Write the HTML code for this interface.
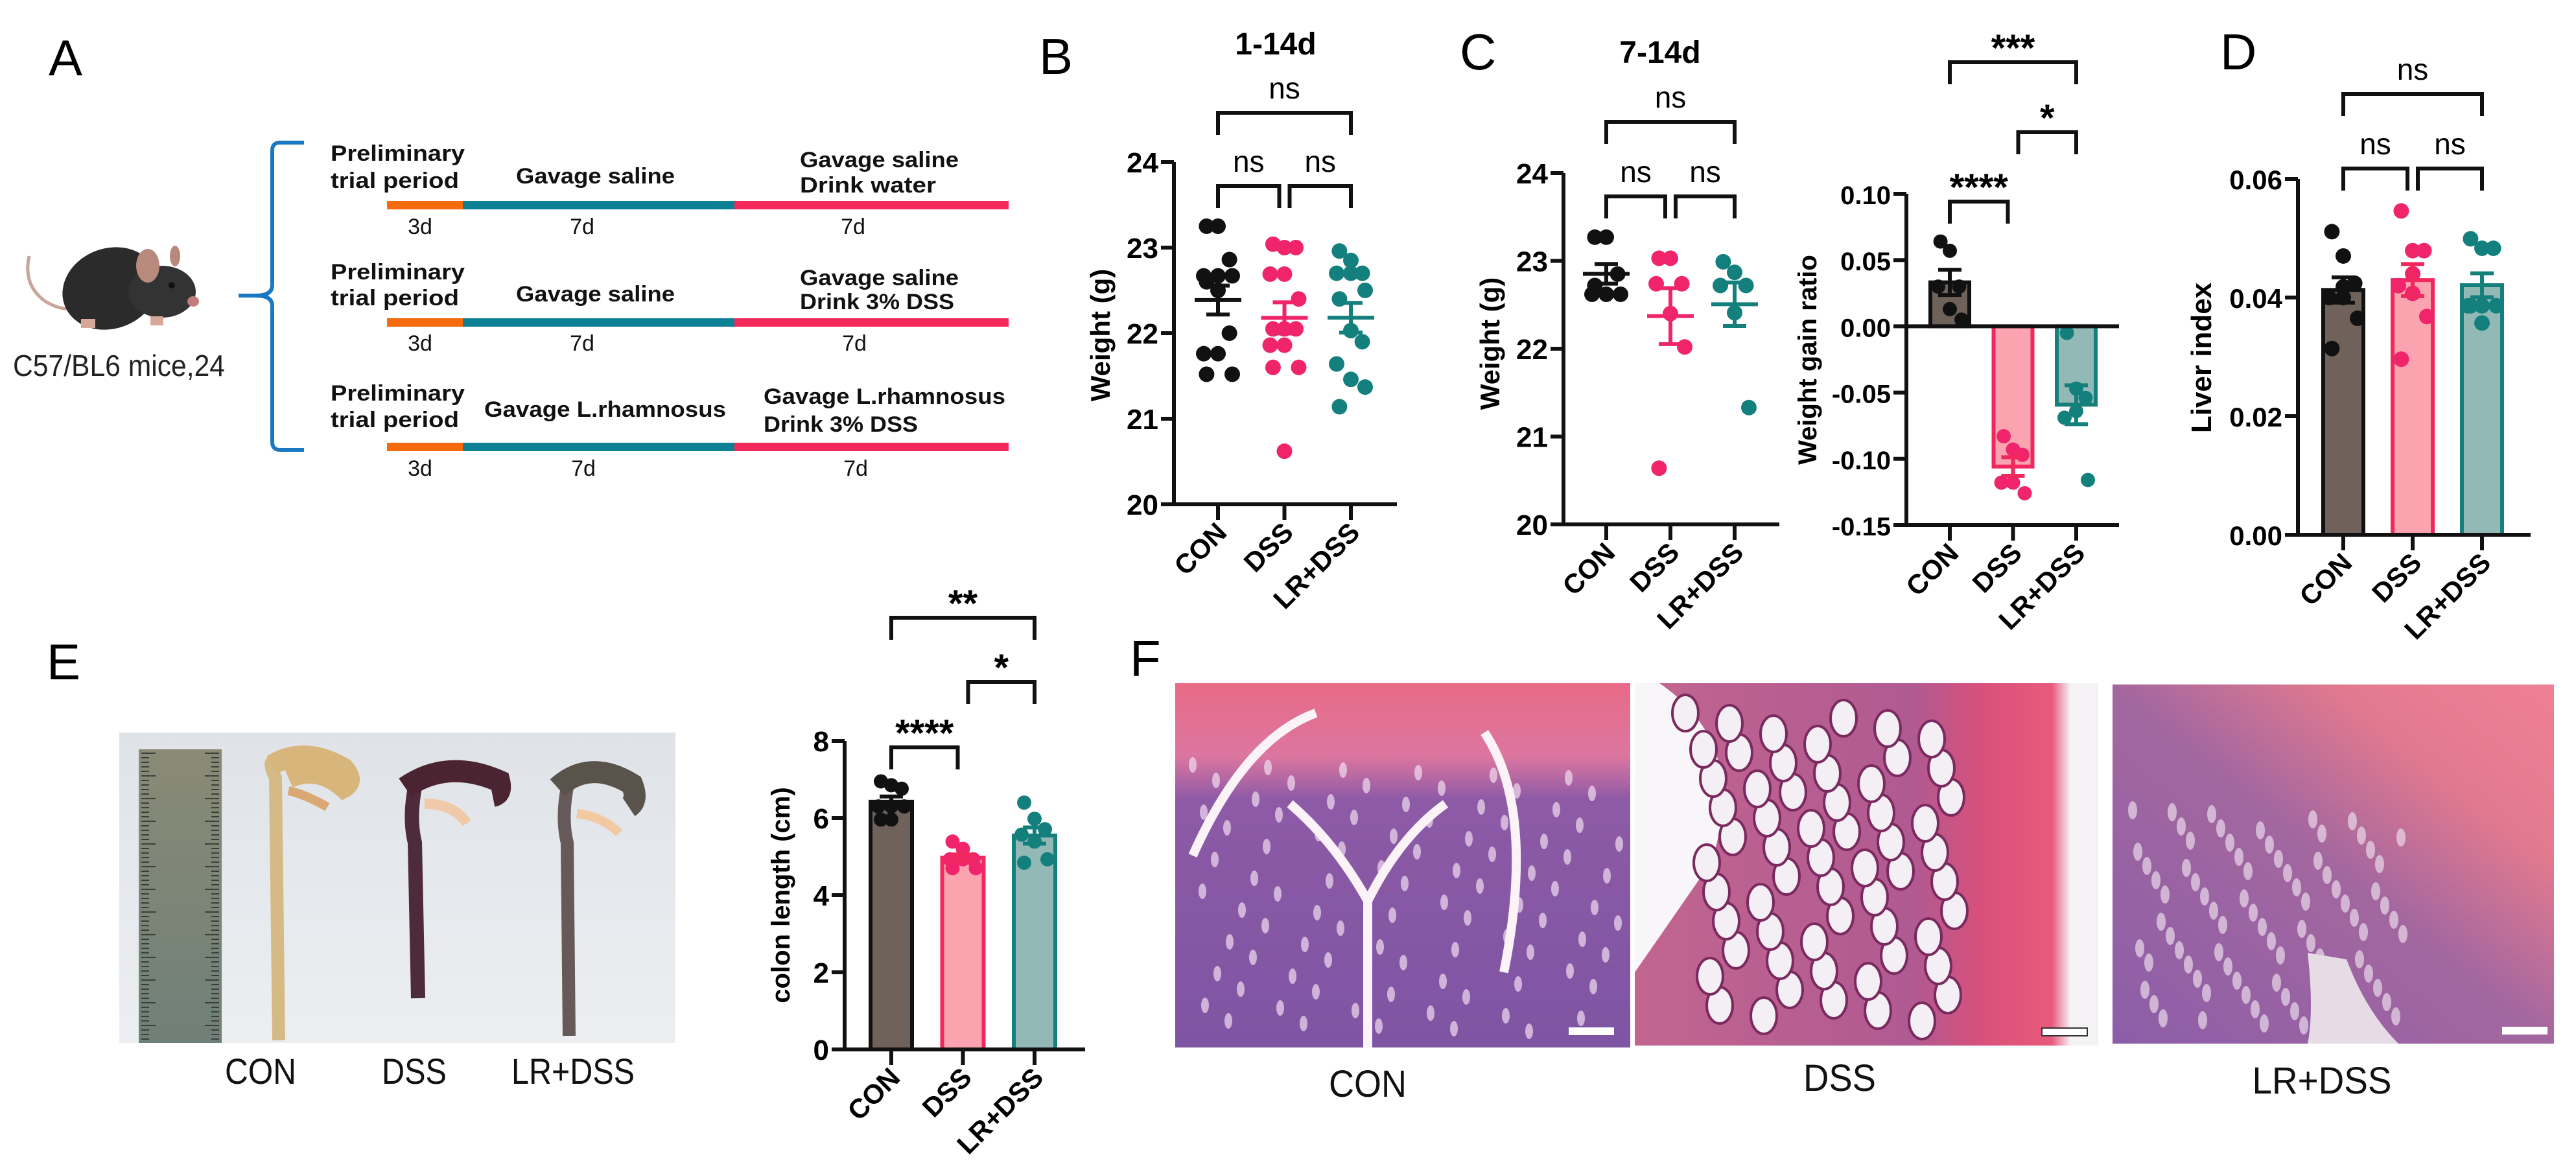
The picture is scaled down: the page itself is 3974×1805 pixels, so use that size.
<!DOCTYPE html>
<html><head><meta charset="utf-8">
<style>
html,body{margin:0;padding:0;background:#fff;}
svg{display:block;}
text{font-family:"Liberation Sans",Arial,sans-serif;}
</style></head>
<body>
<svg id="fig" width="3974" height="1805" viewBox="0 0 3974 1805" xmlns="http://www.w3.org/2000/svg">
<defs>
<linearGradient id="conHist" x1="0" y1="0" x2="0" y2="1">
<stop offset="0" stop-color="#e86a86"/><stop offset="0.2" stop-color="#dc76a0"/><stop offset="0.32" stop-color="#8d5aa6"/><stop offset="1" stop-color="#7e55a3"/></linearGradient>
<linearGradient id="dssHist" x1="0" y1="0" x2="1" y2="0">
<stop offset="0" stop-color="#c2658f"/><stop offset="0.6" stop-color="#b05a92"/><stop offset="0.75" stop-color="#d9507a"/><stop offset="0.9" stop-color="#e85a7c"/><stop offset="0.94" stop-color="#f4f2f4"/><stop offset="1" stop-color="#f4f2f4"/></linearGradient>
<linearGradient id="lrHist" x1="0" y1="1" x2="1" y2="0">
<stop offset="0" stop-color="#8c5ea8"/><stop offset="0.5" stop-color="#a3679f"/><stop offset="0.75" stop-color="#e2798f"/><stop offset="1" stop-color="#ef8095"/></linearGradient>
<linearGradient id="ruler" x1="0" y1="0" x2="0" y2="1"><stop offset="0" stop-color="#8a8a76"/><stop offset="1" stop-color="#6f8078"/></linearGradient>
<linearGradient id="photoBg" x1="0" y1="0" x2="0" y2="1"><stop offset="0" stop-color="#dfe3e8"/><stop offset="1" stop-color="#eceef1"/></linearGradient>
</defs>

<!-- Panel A -->
<text x="75" y="116" font-size="78">A</text>
<g>
<path d="M45 395 Q35 440 70 465 Q95 480 115 475" stroke="#c9a59a" stroke-width="5" fill="none"/>
<ellipse cx="170" cy="445" rx="75" ry="62" fill="#2b2b2b" transform="rotate(-20 170 445)"/>
<ellipse cx="250" cy="450" rx="52" ry="40" fill="#333"/>
<ellipse cx="228" cy="410" rx="18" ry="26" fill="#b88a7e"/>
<ellipse cx="270" cy="395" rx="8" ry="16" fill="#b88a7e"/>
<circle cx="265" cy="440" r="5" fill="#111"/>
<ellipse cx="298" cy="465" rx="9" ry="8" fill="#c27a7a"/>
<rect x="125" y="492" width="22" height="14" fill="#d7a79a"/>
<rect x="232" y="488" width="20" height="14" fill="#d7a79a"/>
</g>
<text x="20" y="580" font-size="46" textLength="327" lengthAdjust="spacingAndGlyphs" fill="#222">C57/BL6 mice,24</text>
<path d="M469 220 L432 220 Q420 220 420 232 L420 440 Q420 456 395 456 L368 456 M395 456 Q420 456 420 472 L420 682 Q420 694 432 694 L469 694" stroke="#1a78c2" stroke-width="6" fill="none"/>

<g font-weight="bold" font-size="34" fill="#111">
<text x="510" y="248" textLength="207" lengthAdjust="spacingAndGlyphs">Preliminary</text>
<text x="510" y="290" textLength="198" lengthAdjust="spacingAndGlyphs">trial period</text>
<text x="796" y="283" textLength="245" lengthAdjust="spacingAndGlyphs">Gavage saline</text>
<text x="1234" y="258" textLength="245" lengthAdjust="spacingAndGlyphs">Gavage saline</text>
<text x="1234" y="297" textLength="210" lengthAdjust="spacingAndGlyphs">Drink water</text>
<text x="510" y="431" textLength="207" lengthAdjust="spacingAndGlyphs">Preliminary</text>
<text x="510" y="471" textLength="198" lengthAdjust="spacingAndGlyphs">trial period</text>
<text x="796" y="465" textLength="245" lengthAdjust="spacingAndGlyphs">Gavage saline</text>
<text x="1234" y="440" textLength="245" lengthAdjust="spacingAndGlyphs">Gavage saline</text>
<text x="1234" y="477" textLength="238" lengthAdjust="spacingAndGlyphs">Drink 3% DSS</text>
<text x="510" y="618" textLength="207" lengthAdjust="spacingAndGlyphs">Preliminary</text>
<text x="510" y="659" textLength="198" lengthAdjust="spacingAndGlyphs">trial period</text>
<text x="747" y="643" textLength="373" lengthAdjust="spacingAndGlyphs">Gavage L.rhamnosus</text>
<text x="1178" y="623" textLength="373" lengthAdjust="spacingAndGlyphs">Gavage L.rhamnosus</text>
<text x="1178" y="666" textLength="238" lengthAdjust="spacingAndGlyphs">Drink 3% DSS</text>
</g>
<g>
<rect x="597" y="310" width="117" height="13" fill="#f46a0c"/><rect x="714" y="310" width="419" height="13" fill="#0c8195"/><rect x="1133" y="310" width="423" height="13" fill="#f52a5a"/>
<rect x="597" y="491" width="117" height="13" fill="#f46a0c"/><rect x="714" y="491" width="419" height="13" fill="#0c8195"/><rect x="1133" y="491" width="423" height="13" fill="#f52a5a"/>
<rect x="597" y="683" width="117" height="13" fill="#f46a0c"/><rect x="714" y="683" width="419" height="13" fill="#0c8195"/><rect x="1133" y="683" width="423" height="13" fill="#f52a5a"/>
</g>
<g font-size="34" fill="#111" text-anchor="middle">
<text x="648" y="361">3d</text><text x="898" y="361">7d</text><text x="1316" y="361">7d</text>
<text x="648" y="541">3d</text><text x="898" y="541">7d</text><text x="1318" y="541">7d</text>
<text x="648" y="734">3d</text><text x="900" y="734">7d</text><text x="1320" y="734">7d</text>
</g>

<!-- Panel letters & titles -->
<text x="1603" y="114" font-size="78">B</text>
<text x="1968" y="84" font-size="48" font-weight="bold" text-anchor="middle">1-14d</text>
<text x="2252" y="107" font-size="78">C</text>
<text x="2561" y="97" font-size="48" font-weight="bold" text-anchor="middle">7-14d</text>
<text x="3425" y="107" font-size="78">D</text>
<text x="72" y="1048" font-size="78">E</text>
<text x="1743" y="1043" font-size="78">F</text>

<!-- Panel E photo -->
<g>
<rect x="184" y="1130" width="858" height="479" fill="url(#photoBg)"/>
<rect x="214" y="1156" width="128" height="453" fill="url(#ruler)"/>
<g id="rulerTicks" stroke="#3a3f3a" stroke-width="2"></g>
<path d="M428 1175 Q410 1170 425 1200 L430 1605" stroke="#d6ba85" stroke-width="20" fill="none"/>
<path d="M420 1180 Q470 1150 530 1185 Q548 1205 530 1215 Q490 1180 445 1200" stroke="#d8b57a" stroke-width="32" fill="none"/>
<path d="M445 1220 Q470 1225 505 1245" stroke="#d9a873" stroke-width="14" fill="none"/>
<path d="M642 1205 Q630 1260 640 1300 L645 1540" stroke="#4e2b3a" stroke-width="22" fill="none"/>
<path d="M625 1215 Q690 1170 770 1205 Q775 1225 760 1228" stroke="#4b2432" stroke-width="34" fill="none"/>
<path d="M655 1240 Q700 1240 720 1270" stroke="#f0c9a8" stroke-width="16" fill="none"/>
<path d="M877 1205 Q865 1260 875 1300 L878 1598" stroke="#66595a" stroke-width="20" fill="none"/>
<path d="M860 1215 Q910 1170 975 1210 Q985 1235 970 1245" stroke="#5a534c" stroke-width="34" fill="none"/>
<path d="M890 1255 Q930 1260 955 1285" stroke="#f2c9a0" stroke-width="14" fill="none"/>
</g>
<g font-size="56" fill="#111" text-anchor="middle">
<text x="402" y="1672" textLength="110" lengthAdjust="spacingAndGlyphs">CON</text>
<text x="639" y="1672" textLength="100" lengthAdjust="spacingAndGlyphs">DSS</text>
<text x="884" y="1672" textLength="190" lengthAdjust="spacingAndGlyphs">LR+DSS</text>
</g>

<!-- Panel F histology -->
<g>
<rect x="1813" y="1054" width="702" height="562" fill="url(#conHist)"/>
<g id="texCon"></g>
<path d="M2110 1390 L2110 1616 M2110 1390 Q2060 1300 1990 1240 M2110 1390 Q2160 1290 2230 1240 M2030 1100 Q1920 1140 1840 1320 M2290 1130 Q2370 1250 2320 1500" stroke="#fbf3f7" stroke-width="14" fill="none"/>
<rect x="2420" y="1585" width="70" height="12" fill="#fff"/>
</g>
<g>
<rect x="2522" y="1054" width="715" height="559" fill="url(#dssHist)"/>
<path d="M2522 1054 L2560 1054 Q2700 1150 2640 1330 L2522 1500 Z" fill="#f8f6f8"/>
<g id="texDss"></g>
<rect x="3150" y="1586" width="70" height="12" fill="#fff" stroke="#333" stroke-width="2"/>
</g>
<g>
<rect x="3259" y="1056" width="681" height="554" fill="url(#lrHist)"/>
<g id="texLr"></g>
<path d="M3560 1470 Q3570 1560 3560 1610 L3700 1610 Q3650 1560 3620 1480 Z" fill="#e7dbe6"/>
<rect x="3860" y="1584" width="70" height="12" fill="#fff"/>
</g>
<g font-size="58" fill="#111" text-anchor="middle">
<text x="2110" y="1692" textLength="120" lengthAdjust="spacingAndGlyphs">CON</text>
<text x="2838" y="1683" textLength="112" lengthAdjust="spacingAndGlyphs">DSS</text>
<text x="3582" y="1687" textLength="215" lengthAdjust="spacingAndGlyphs">LR+DSS</text>
</g>

<g id="charts"></g>
</svg>

<script>
// ---------- data ----------
const groups = ['CON', 'DSS', 'LR+DSS'];
// B: weight 1-14d (g)
const b_con = [23.25, 23.25, 22.86, 22.67, 22.67, 22.67, 22.6, 22.5, 22.0, 21.76, 21.76, 21.52, 21.52];
const b_dss = [23.04, 23.0, 23.0, 22.69, 22.69, 22.4, 22.05, 22.05, 22.05, 21.86, 21.86, 21.6, 21.6, 20.62];
const b_lr = [22.96, 22.85, 22.7, 22.7, 22.7, 22.5, 22.4, 22.03, 21.9, 21.64, 21.46, 21.37, 21.14];
const bTicks = [20, 21, 22, 23, 24];
// C: weight 7-14d (g)
const c_con = [23.27, 23.27, 22.85, 22.62, 22.62, 22.62, 22.72];
const c_dss = [23.03, 23.03, 22.74, 22.74, 22.4, 22.02, 20.64];
const c_lr = [22.99, 22.87, 22.72, 22.72, 22.41, 21.33];
const cTicks = [20, 21, 22, 23, 24];
// C: weight gain ratio
const wg_con = [0.064, 0.057, 0.03, 0.03, 0.013, 0.005];
const wg_dss = [-0.083, -0.093, -0.097, -0.118, -0.118, -0.126];
const wg_lr = [-0.005, -0.047, -0.054, -0.069, -0.064, -0.116];
const wgTicks = [-0.15, -0.10, -0.05, 0.00, 0.05, 0.10];
const wgTickLabels = ['-0.15', '-0.10', '-0.05', '0.00', '0.05', '0.10'];
// D: liver index
const liver_con = [0.0511, 0.047, 0.0424, 0.040, 0.040, 0.0365, 0.0314, 0.0418];
const liver_dss = [0.0546, 0.0479, 0.0479, 0.042, 0.0407, 0.0368, 0.0296, 0.044];
const liver_lr = [0.0499, 0.0483, 0.0483, 0.0386, 0.0386, 0.0386, 0.0386, 0.0357];
const liverTicks = [0, 0.02, 0.04, 0.06];
const liverTickLabels = ['0.00', '0.02', '0.04', '0.06'];
// E: colon length (cm)
const colon_con = [6.95, 6.85, 6.76, 6.3, 6.3, 6.3, 5.96, 5.96];
const colon_dss = [5.39, 5.2, 4.93, 4.93, 4.93, 4.7, 4.7, 5.0];
const colon_lr = [6.4, 5.98, 5.71, 5.57, 5.39, 4.93, 4.84];
const colonTicks = [0, 2, 4, 6, 8];
// significance annotations
const sigB = [['ns', 0, 2, 0], ['ns', 0, 1, 1], ['ns', 1, 2, 1]];
const sigC = [['ns', 0, 2, 0], ['ns', 0, 1, 1], ['ns', 1, 2, 1]];
const sigWG = [['***', 0, 2, 0], ['*', 1, 2, 1], ['****', 0, 1, 2]];
const sigD = [['ns', 0, 2, 0], ['ns', 0, 1, 1], ['ns', 1, 2, 1]];
const sigColon = [['**', 0, 2, 0], ['*', 1, 2, 1], ['****', 0, 1, 2]];

// ---------- drawing ----------
const NS = 'http://www.w3.org/2000/svg';
const root = document.getElementById('charts');
function mk(tag, attrs, parent) {
  const e = document.createElementNS(NS, tag);
  for (const k in attrs) e.setAttribute(k, attrs[k]);
  (parent || root).appendChild(e);
  return e;
}
const dotCol = ['#111111', '#f0246a', '#13807d'];
const barFill = ['#6e625b', '#fba3ae', '#93b9b7'];
const barStroke = ['#111111', '#f0285e', '#13807c'];
function mean(a) { return a.reduce((s, v) => s + v, 0) / a.length; }
function sem(a) { const m = mean(a); return Math.sqrt(a.reduce((s, v) => s + (v - m) * (v - m), 0) / (a.length - 1)) / Math.sqrt(a.length); }

function drawChart(cfg) {
  const g = mk('g', {});
  
  
  const y = v => cfg.yBot - (v - cfg.vmin) / (cfg.vmax - cfg.vmin) * (cfg.yBot - cfg.yTop);
  const x = i => cfg.x1 + i * cfg.step;
  const sw = 6;
  if (cfg.type === 'bar') {
    cfg.series.forEach((s, i) => {
      const m = mean(s);
      const y0 = y(cfg.base), y1 = y(m);
      const r = mk('rect', { x: x(i) - cfg.bw / 2, y: Math.min(y0, y1), width: cfg.bw, height: Math.abs(y1 - y0), fill: barFill[i], stroke: barStroke[i], 'stroke-width': sw }, g);
      
      
    });
  }
  cfg.series.forEach((s, i) => {
    s.forEach((v, k) => {
      const off = ((k % 3) - 1) * cfg.jit * (k % 2 ? 1 : 0.8);
      const c = mk('circle', { cx: x(i) + off, cy: y(v), r: cfg.r, fill: dotCol[i] }, g);
      
      
    });
  });
  cfg.series.forEach((s, i) => {
    const m = mean(s), e = sem(s);
    const col = cfg.type === 'bar' ? barStroke[i] : dotCol[i];
    const eb = mk('path', { d: `M${x(i)} ${y(m - e)} L${x(i)} ${y(m + e)} M${x(i) - 18} ${y(m - e)} L${x(i) + 18} ${y(m - e)} M${x(i) - 18} ${y(m + e)} L${x(i) + 18} ${y(m + e)}` + (cfg.type === 'scatter' ? ` M${x(i) - 36} ${y(m)} L${x(i) + 36} ${y(m)}` : ''), stroke: col, 'stroke-width': sw, fill: 'none' }, g);
    
    
  });
  const ax = mk('path', { d: `M${cfg.x0} ${cfg.yTop} L${cfg.x0} ${cfg.yBot} L${cfg.xEnd} ${cfg.yBot}`, stroke: '#111', 'stroke-width': sw, fill: 'none' }, g);
  
  
  if (cfg.zeroLine) {
    const zl = mk('line', { x1: cfg.x0, x2: cfg.xEnd, y1: y(0), y2: y(0), stroke: '#111', 'stroke-width': sw }, g);
    
    
  }
  cfg.ticks.forEach((t, k) => {
    mk('line', { x1: cfg.x0 - 20, x2: cfg.x0, y1: y(t), y2: y(t), stroke: '#111', 'stroke-width': sw }, g);
    const tl = mk('text', { x: cfg.x0 - 24, y: y(t) + 16, 'font-size': cfg.tfs || 44, 'font-weight': 'bold', 'text-anchor': 'end' }, g);
    
    
    tl.textContent = cfg.tickLabels ? cfg.tickLabels[k] : String(t);
  });
  groups.forEach((gn, i) => {
    mk('line', { x1: x(i), x2: x(i), y1: cfg.yBot, y2: cfg.yBot + 24, stroke: '#111', 'stroke-width': sw }, g);
    const cl = mk('text', { x: 0, y: 0, 'font-size': 42, 'font-weight': 'bold', 'text-anchor': 'end', transform: `translate(${x(i) + 16},${cfg.yBot + 46}) rotate(-45)` }, g);
    
    
    cl.textContent = gn;
  });
  const yt = mk('text', { x: 0, y: 0, 'font-size': cfg.yfs || 42, 'font-weight': 'bold', 'text-anchor': 'middle', transform: `translate(${cfg.ytX},${cfg.ytY}) rotate(-90)` }, g);
  
  
  yt.textContent = cfg.ytitle;
  cfg.sig.forEach(s => {
    const [lab, a, b, lvl] = s;
    const top = cfg.brY[lvl], bot = top + 34;
    const xa = x(a) + (a === 1 ? 8 : 0), xb = x(b) - (b === 1 ? 8 : 0);
    const br = mk('path', { d: `M${xa} ${bot} L${xa} ${top} L${xb} ${top} L${xb} ${bot}`, stroke: '#111', 'stroke-width': sw, fill: 'none' }, g);
    
    
    const st = lab.startsWith('*');
    const tx = mk('text', { x: (xa + xb) / 2, y: top - (st ? 2 : 22), 'font-size': st ? 58 : 46, 'font-weight': st ? 'bold' : 'normal', 'text-anchor': 'middle' }, g);
    
    
    tx.textContent = lab;
  });
}

drawChart({ name: 'chart-b-weight-1-14d', type: 'scatter', series: [b_con, b_dss, b_lr], vmin: 20, vmax: 24, yTop: 250, yBot: 778, x0: 1811, xEnd: 2155, x1: 1879, step: 102.5, r: 12, jit: 22, ticks: bTicks, ytitle: 'Weight (g)', ytX: 1712, ytY: 517, brY: [174, 287], sig: sigB });
drawChart({ name: 'chart-c-weight-7-14d', type: 'scatter', series: [c_con, c_dss, c_lr], vmin: 20, vmax: 24, yTop: 267, yBot: 809, x0: 2412, xEnd: 2745, x1: 2478, step: 99, r: 12, jit: 22, ticks: cTicks, ytitle: 'Weight  (g)', ytX: 2313, ytY: 530, brY: [188, 303], sig: sigC });
drawChart({ name: 'chart-c-weight-gain-ratio', type: 'bar', base: 0, zeroLine: true, series: [wg_con, wg_dss, wg_lr], vmin: -0.15, vmax: 0.10, yTop: 299, yBot: 810, x0: 2941, xEnd: 3269, x1: 3008, step: 97.5, bw: 60, r: 11, jit: 18, ticks: wgTicks, tickLabels: wgTickLabels, tfs: 40, ytitle: 'Weight gain ratio', yfs: 40, ytX: 2802, ytY: 555, brY: [96, 204, 311], sig: sigWG });
drawChart({ name: 'chart-d-liver-index', type: 'bar', base: 0, series: [liver_con, liver_dss, liver_lr], vmin: 0, vmax: 0.06, yTop: 276, yBot: 825, x0: 3545, xEnd: 3904, x1: 3615, step: 107, bw: 62, r: 12, jit: 22, ticks: liverTicks, tickLabels: liverTickLabels, tfs: 42, ytitle: 'Liver index', yfs: 44, ytX: 3411, ytY: 552, brY: [145, 260], sig: sigD });
drawChart({ name: 'chart-e-colon-length', type: 'bar', base: 0, series: [colon_con, colon_dss, colon_lr], vmin: 0, vmax: 8, yTop: 1143, yBot: 1619, x0: 1303, xEnd: 1674, x1: 1375, step: 110.5, bw: 64, r: 11, jit: 20, ticks: colonTicks, ytitle: 'colon length (cm)', yfs: 40, ytX: 1218, ytY: 1381, brY: [953, 1052, 1153], sig: sigColon });

// decorative textures (not data)
(function () {
  const rt = document.getElementById('rulerTicks');
  for (let yy = 1162; yy < 1605; yy += 7) {
    const l = (yy - 1162) % 35 === 0 ? 22 : 12;
    mk('line', { x1: 218, x2: 218 + l, y1: yy, y2: yy }, rt);
    mk('line', { x1: 338 - l, x2: 338, y1: yy, y2: yy }, rt);
  }
  const tc = document.getElementById('texCon');
  for (let i = 0; i < 90; i++) {
    const cx = 1840 + (i * 97) % 660, cy = 1180 + (i * 53) % 420;
    mk('ellipse', { cx: cx, cy: cy, rx: 6, ry: 12, fill: '#f1dcef', opacity: 0.7 }, tc);
  }
  const td = document.getElementById('texDss');
  for (let i = 0; i < 60; i++) {
    const cx = 2600 + (i * 83) % 420, cy = 1100 + (i * 61) % 480;
    mk('ellipse', { cx: cx, cy: cy, rx: 20, ry: 28, fill: '#f4eef5', stroke: '#7a2a5e', 'stroke-width': 4 }, td);
  }
  const tl = document.getElementById('texLr');
  for (let i = 0; i < 80; i++) {
    const cx = 3290 + (i * 89) % 420, cy = 1250 + (i * 47) % 340;
    mk('ellipse', { cx: cx, cy: cy, rx: 7, ry: 14, fill: '#e9d8ea', opacity: 0.7 }, tl);
  }
})();
</script>
</body></html>
